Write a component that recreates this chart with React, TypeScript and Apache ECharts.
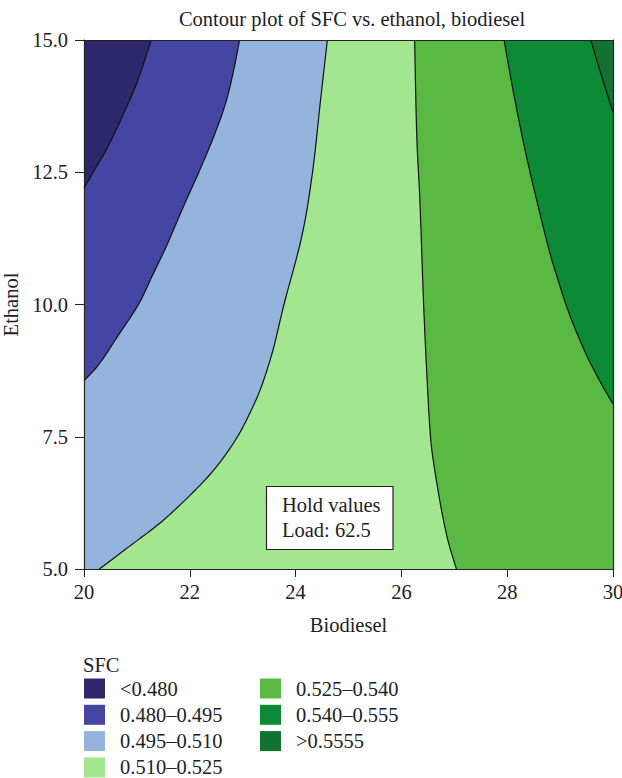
import React, { useEffect, useRef } from "react";
import * as echarts from "echarts";

// ---- data ----
const xTicks = [20, 22, 24, 26, 28, 30];
const yTicks = [5.0, 7.5, 10.0, 12.5, 15.0];

const levelNames = [
  "<0.480",
  "0.480–0.495",
  "0.495–0.510",
  "0.510–0.525",
  "0.525–0.540",
  "0.540–0.555",
  ">0.5555",
];

// contour lines (Biodiesel, Ethanol), each running from the top edge to another edge
const contour480 = [[21.27, 15], [21.01, 14.22], [20.74, 13.59], [20.44, 12.96], [20.22, 12.58], [20, 12.2]];
const contour495 = [[22.94, 15], [22.84, 14.48], [22.69, 13.85], [22.47, 13.22], [22.17, 12.5], [21.87, 11.83], [21.57, 11.13], [21.27, 10.5], [21.03, 10.0], [20.67, 9.45], [20.29, 8.88], [20, 8.56]];
const contour510 = [[24.6, 15], [24.47, 13.85], [24.32, 12.5], [24.12, 11.3], [23.78, 10.0], [23.57, 9.13], [23.35, 8.44], [23.16, 8.0], [22.93, 7.55], [22.64, 7.11], [22.33, 6.73], [21.97, 6.36], [21.45, 5.88], [20.9, 5.46], [20.29, 5]];
const contour525 = [[26.25, 15], [26.29, 13.2], [26.35, 11.95], [26.42, 10], [26.49, 8.5], [26.55, 7.5], [26.61, 7.0], [26.69, 6.5], [26.78, 6.0], [26.89, 5.5], [27.04, 5]];
const contour540 = [[27.94, 15], [28.12, 14.0], [28.32, 13.0], [28.55, 12.0], [28.8, 11.0], [28.95, 10.5], [29.11, 10.0], [29.3, 9.5], [29.52, 9.0], [29.78, 8.5], [30, 8.12]];
const contour555 = [[29.58, 15], [29.79, 14.3], [30, 13.64]];

const holdText = ["Hold values", "Load: 62.5"];

// ---- styles ----
const levelColors = ["#2D276C", "#4545A4", "#94B4DE", "#A3E690", "#5AB943", "#0C8A35", "#127330"];
const FONT = "'Liberation Serif', 'DejaVu Serif', serif";
const FS = 20.5;
const INK = "#222";

const xMin = Math.min(...xTicks);
const xMax = Math.max(...xTicks);
const yMin = Math.min(...yTicks);
const yMax = Math.max(...yTicks);

const contours = [contour480, contour495, contour510, contour525, contour540, contour555];
const fullRect = [[xMin, yMax], [xMax, yMax], [xMax, yMin], [xMin, yMin]];

// closing corners for the region to the left of a contour
function closingCorners(curve: number[][]): number[][] {
  const end = curve[curve.length - 1];
  const pts: number[][] = [];
  if (end[0] === xMax) pts.push([xMax, yMin]);
  if (end[0] !== xMin) pts.push([xMin, yMin]);
  pts.push([xMin, yMax]);
  return pts;
}

// Catmull-Rom drawing of a pixel polyline (rendering only)
function spline(px: number[][], seg = 10): number[][] {
  if (px.length < 3) return px;
  const out: number[][] = [];
  for (let i = 0; i < px.length - 1; i++) {
    const p0 = px[Math.max(0, i - 1)];
    const p1 = px[i];
    const p2 = px[i + 1];
    const p3 = px[Math.min(px.length - 1, i + 2)];
    for (let s = 0; s < seg; s++) {
      const t = s / seg;
      const t2 = t * t;
      const t3 = t2 * t;
      const f = (a: number, b: number, c: number, d: number) =>
        0.5 * (2 * b + (-a + c) * t + (2 * a - 5 * b + 4 * c - d) * t2 + (-a + 3 * b - 3 * c + d) * t3);
      out.push([f(p0[0], p1[0], p2[0], p3[0]), f(p0[1], p1[1], p2[1], p3[1])]);
    }
  }
  out.push(px[px.length - 1]);
  return out;
}

export default function App() {
  const ref = useRef<HTMLDivElement>(null);

  useEffect(() => {
    const chart = echarts.init(ref.current!, null, { renderer: "svg" });

    const regionSeries = levelNames
      .map((name, i) => ({
        type: "custom",
        name,
        coordinateSystem: "cartesian2d",
        data: [[xMin, yMin]],
        encode: { x: 0, y: 1 },
        itemStyle: { color: levelColors[i] },
        silent: true,
        z: 2 + (levelNames.length - i),
        renderItem: (_p: any, api: any) => {
          const isLast = i === levelNames.length - 1;
          const pts = isLast
            ? fullRect.map((p) => api.coord(p))
            : spline(contours[i].map((p) => api.coord(p))).concat(
                closingCorners(contours[i]).map((p) => api.coord(p))
              );
          return {
            type: "polygon",
            shape: { points: pts },
            style: { fill: levelColors[i], stroke: null },
          };
        },
      }))
      .reverse();

    const lineSeries = {
      type: "custom",
      name: "contours",
      coordinateSystem: "cartesian2d",
      data: contours.map((c) => c[0]),
      encode: { x: 0, y: 1 },
      silent: true,
      z: 20,
      renderItem: (params: any, api: any) => ({
        type: "polyline",
        shape: { points: spline(contours[params.dataIndex].map((p) => api.coord(p))) },
        style: { fill: null, stroke: "#111", lineWidth: 1.2 },
      }),
    };

    const legendBase = {
      orient: "vertical",
      icon: "rect",
      itemWidth: 21,
      itemHeight: 20,
      itemGap: 5.3,
      padding: 0,
      selectedMode: false,
      textStyle: { fontSize: FS, fontFamily: FONT, color: INK, padding: [0, 0, 0, 10] },
    };

    const axisCommon = {
      type: "value",
      z: 30,
      axisLine: { show: true, onZero: false, lineStyle: { color: INK, width: 1.2 } },
      splitLine: { show: false },
    };

    const txt = (text: string, x: number, y: number, align = "left", z = 100) => ({
      type: "text",
      x,
      y,
      z,
      style: { text, fontSize: FS, fontFamily: FONT, fill: INK, align, verticalAlign: "middle" },
    });

    chart.setOption({
      animation: false,
      backgroundColor: "#fff",
      grid: { left: 84, top: 40, width: 529, height: 529, containLabel: false, outerBoundsMode: "none" },
      xAxis: [
        {
          ...axisCommon,
          position: "bottom",
          min: xMin,
          max: xMax,
          interval: 2,
          name: "Biodiesel",
          nameLocation: "middle",
          nameGap: 45.5,
          nameTextStyle: { fontSize: FS, fontFamily: FONT, color: INK },
          axisTick: { show: true, inside: false, length: 8, lineStyle: { color: INK } },
          axisLabel: { fontSize: FS, fontFamily: FONT, color: INK, margin: 12, formatter: (v: number) => String(v) },
        },
        {
          ...axisCommon,
          position: "top",
          min: xMin,
          max: xMax,
          axisTick: { show: false },
          axisLabel: { show: false },
        },
      ],
      yAxis: [
        {
          ...axisCommon,
          position: "left",
          min: yMin,
          max: yMax,
          interval: 2.5,
          name: "Ethanol",
          nameLocation: "middle",
          nameGap: 60,
          nameRotate: 90,
          nameTextStyle: { fontSize: FS, fontFamily: FONT, color: INK },
          axisTick: { show: true, inside: false, length: 9, lineStyle: { color: INK } },
          axisLabel: { fontSize: FS, fontFamily: FONT, color: INK, margin: 16, formatter: (v: number) => v.toFixed(1) },
        },
        {
          ...axisCommon,
          position: "right",
          min: yMin,
          max: yMax,
          axisTick: { show: false },
          axisLabel: { show: false },
        },
      ],
      legend: [
        { ...legendBase, data: levelNames.slice(0, 4), left: 84, top: 678 },
        { ...legendBase, data: levelNames.slice(4), left: 260, top: 678 },
      ],
      graphic: [
        txt("Contour plot of SFC vs. ethanol, biodiesel", 352, 19, "center"),
        txt("SFC", 83, 665),
        {
          type: "rect",
          z: 100,
          shape: { x: 266.5, y: 486.5, width: 126.5, height: 63 },
          style: { fill: "#fff", stroke: INK, lineWidth: 1.2 },
        },
        txt(holdText[0], 282, 505, "left", 101),
        txt(holdText[1], 282, 530, "left", 101),
      ],
      series: [...regionSeries, lineSeries],
    });

    return () => chart.dispose();
  }, []);

  return (
    <div
      ref={ref}
      style={{ position: "fixed", left: 0, top: 0, width: 622, height: 778, background: "#fff" }}
    />
  );
}
